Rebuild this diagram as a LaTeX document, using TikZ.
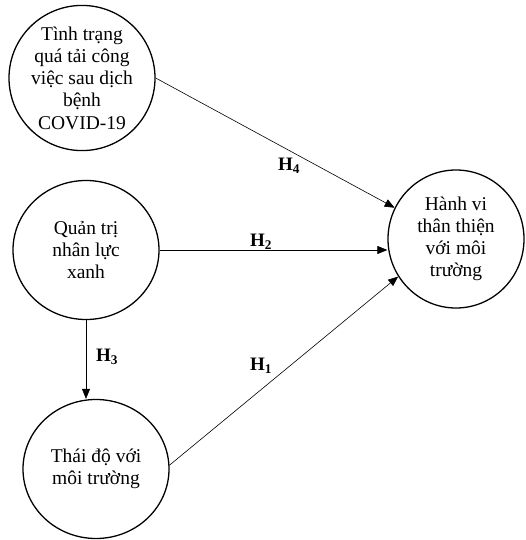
\documentclass[tikz,border=0pt]{standalone}
\usepackage{fontspec}
\setmainfont{Liberation Serif}
\usetikzlibrary{arrows.meta,shapes.geometric}
\begin{document}
\begin{tikzpicture}[x=1pt,y=-1pt,
  construct/.style={draw,line width=1.3pt,ellipse,minimum width=146pt,minimum height=139pt,inner sep=0pt,align=center,font=\fontsize{19.5}{22.2}\selectfont},
  path/.style={line width=0.6pt,-{Triangle[length=10pt,width=8pt]}},
  hyp/.style={font=\fontsize{19}{22}\selectfont\bfseries,inner sep=0pt}]
\useasboundingbox (0,0) rectangle (525,540);
\node[construct] (tl) at (82,78) {Tình trạng\\quá tải công\\việc sau dịch\\bệnh\\COVID-19};
\node[construct] (ml) at (86,250) {Quản trị\\nhân lực\\xanh};
\node[construct] (bl) at (96,469) {Thái độ với\\môi trường};
\node[construct,minimum width=136pt,minimum height=138pt] (r) at (456,239) {Hành vi\\thân thiện\\với môi\\trường};
\draw[path] (tl.east) -- (r.153);
\draw[path] (ml.east) -- (ml.east -| r.west);
\draw[path] (bl.3) -- (r.213);
\draw[path] (ml.south) -- (ml.south |- bl.north);
\node[hyp] (h4) at (289,166) {H$_\mathbf{4}$};
\node[hyp] (h2) at (261,242) {H$_\mathbf{2}$};
\node[hyp] (h1) at (261,366) {H$_\mathbf{1}$};
\node[hyp] (h3) at (107,357) {H$_\mathbf{3}$};
\end{tikzpicture}
\end{document}
